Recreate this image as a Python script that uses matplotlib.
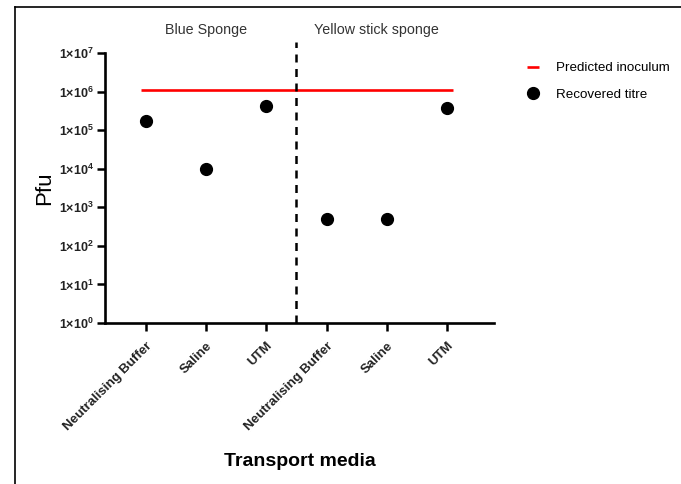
import matplotlib.pyplot as plt
from matplotlib.lines import Line2D

plt.rcParams['font.family'] = ['Liberation Sans', 'DejaVu Sans']
plt.rcParams['mathtext.fontset'] = 'custom'
plt.rcParams['mathtext.rm'] = 'Liberation Sans'
plt.rcParams['mathtext.bf'] = 'Liberation Sans:bold'

# data
media = ['Neutralising Buffer', 'Saline', 'UTM', 'Neutralising Buffer', 'Saline', 'UTM']
groups = ['Blue Sponge', 'Yellow stick sponge']
recovered = [1.7e5, 1.0e4, 4.3e5, 500, 500, 3.8e5]
predicted = 1.1e6
yticks = [1, 1e1, 1e2, 1e3, 1e4, 1e5, 1e6, 1e7]

fig = plt.figure(figsize=(6.81, 4.84), dpi=100)
ax = fig.add_axes([0.1542, 0.3326, 0.5712, 0.5579])

x = list(range(len(media)))
ax.plot([-0.09, 5.1], [predicted, predicted], color='#ff0000', lw=1.9,
        label='Predicted inoculum', solid_capstyle='butt')
ax.plot(x, recovered, 'o', color='black', ms=8.5, ls='none', label='Recovered titre')

# divider between sponge types
ax.plot([2.49, 2.49], [0, 1.04], color='black', lw=1.8, ls=(0, (3.2, 2.6)),
        transform=ax.get_xaxis_transform(), clip_on=False)
ax.text(1, 1.085, groups[0], transform=ax.get_xaxis_transform(),
        ha='center', va='center', fontsize=10.3, color='#333333')
ax.text(3.82, 1.085, groups[1], transform=ax.get_xaxis_transform(),
        ha='center', va='center', fontsize=10.3, color='#333333')

ax.set_yscale('log')
ax.set_ylim(1, 1e7)
ax.set_xlim(-0.68, 5.78)
ax.set_yticks(yticks)
ax.set_yticklabels([r'$\mathbf{1{\times}10^{%d}}$' % i for i in range(8)], fontsize=9,
                   color='#222222')
ax.minorticks_off()
ax.set_xticks(x)
ax.set_xticklabels(media, rotation=45, ha='right', rotation_mode='anchor',
                   fontsize=9.5, fontweight='bold', color='#222222')
ax.tick_params(axis='both', length=6, width=1.8, direction='out')
ax.tick_params(axis='x', pad=6)
ax.tick_params(axis='y', pad=2)

for s in ['top', 'right']:
    ax.spines[s].set_visible(False)
for s in ['left', 'bottom']:
    ax.spines[s].set_linewidth(1.9)

ax.set_ylabel('Pfu', fontsize=16, labelpad=3)
ax.set_xlabel('Transport media', fontsize=14, fontweight='bold', labelpad=15)

fig.legend(loc='upper left', bbox_to_anchor=(0.764, 0.886), frameon=False,
           fontsize=9.6, handlelength=0.9, handletextpad=1.3, labelspacing=1.05,
           borderpad=0)

# page frame
fig.add_artist(Line2D([0.022, 0.022], [0, 0.986], color='black', lw=1.2))
fig.add_artist(Line2D([0.022, 1], [0.986, 0.986], color='black', lw=1.2))

fig.savefig('out.png', dpi=100)
